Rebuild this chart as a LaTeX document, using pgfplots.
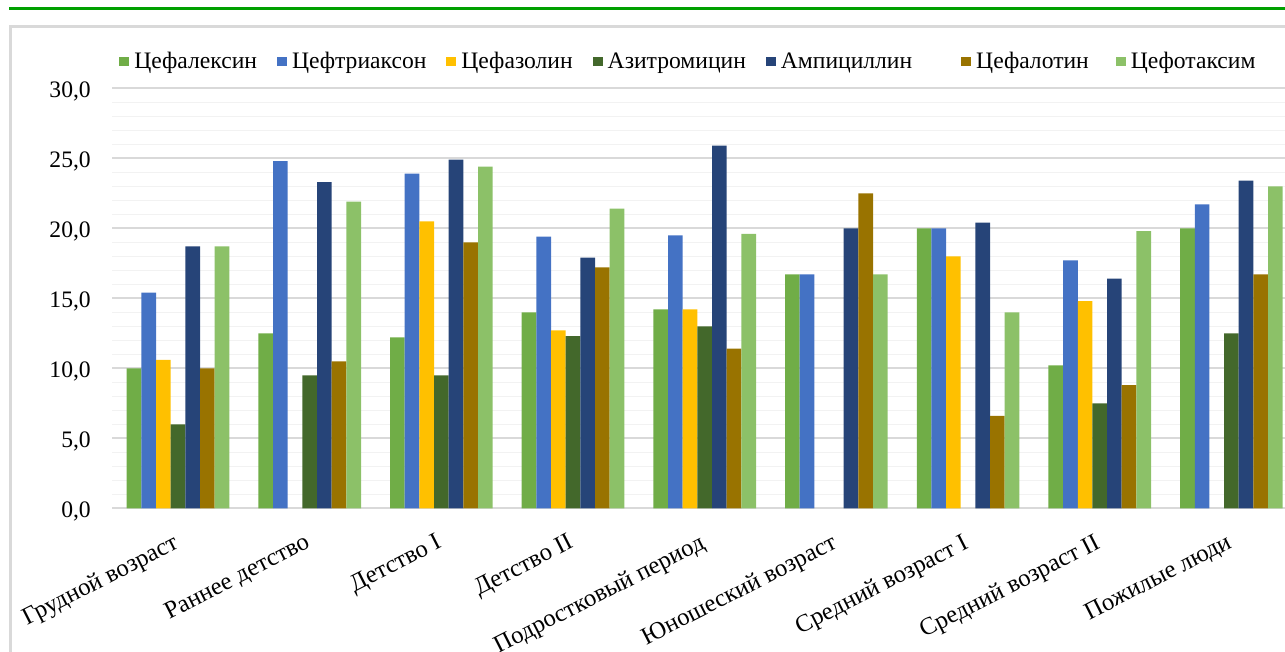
\documentclass[border=0pt]{standalone}
\usepackage{fontspec}
\setmainfont{Liberation Serif}
\usepackage{pgfplots}
\pgfplotsset{compat=1.18}
\usepackage{pgfplotstable}

\definecolor{cfx}{HTML}{70AD47}
\definecolor{cftr}{HTML}{4472C4}
\definecolor{cfz}{HTML}{FFC000}
\definecolor{azi}{HTML}{43682B}
\definecolor{amp}{HTML}{264478}
\definecolor{cfl}{HTML}{997300}
\definecolor{cfot}{HTML}{8CC168}
\definecolor{gridmaj}{HTML}{D9D9D9}
\definecolor{gridmin}{HTML}{F2F2F2}
\definecolor{topline}{HTML}{00A000}

% x: age group index, nan = no bar
\pgfplotstableread{
x cfx  cftr cfz  azi  amp  cfl  cfot
0 10.0 15.4 10.6 6.0  18.7 10.0 18.7
1 12.5 24.8 nan  9.5  23.3 10.5 21.9
2 12.2 23.9 20.5 9.5  24.9 19.0 24.4
3 14.0 19.4 12.7 12.3 17.9 17.2 21.4
4 14.2 19.5 14.2 13.0 25.9 11.4 19.6
5 16.7 16.7 nan  nan  20.0 22.5 16.7
6 20.0 20.0 18.0 nan  20.4 6.6  14.0
7 10.2 17.7 14.8 7.5  16.4 8.8  19.8
8 20.0 21.7 nan  12.5 23.4 16.7 23.0
}\data

\begin{document}
\fontsize{11.8pt}{14pt}\selectfont
\begin{tikzpicture}
\useasboundingbox (0,0) rectangle (642.5pt,326pt);
\draw[line width=1.25pt, topline] (4.5pt,321.75pt) -- (642.5pt,321.75pt);
\draw[line width=1.2pt, gridmaj] (5.25pt,-5pt) |- (650pt,312.75pt);
\begin{axis}[
    ybar=0pt, bar width=7.33pt,
    scale only axis, width=586.4pt, height=210pt,
    at={(56.1pt,71.85pt)}, anchor=south west,
    xmin=-0.5, xmax=8.407, ymin=0, ymax=30,
    xtick={0,...,8},
    xticklabels={Грудной возраст, Раннее детство, Детство I, Детство II,
        Подростковый период, Юношеский возраст, Средний возраст I,
        Средний возраст II, Пожилые люди},
    ytick={0,5,...,30}, minor y tick num=4,
    ymajorgrids, yminorgrids,
    major grid style={draw=gridmaj, line width=0.8pt},
    minor grid style={draw=gridmin, line width=0.7pt},
    major tick length=0pt, minor tick length=0pt,
    axis line style={draw=none},
    /pgf/number format/fixed, /pgf/number format/fixed zerofill,
    /pgf/number format/precision=1, /pgf/number format/use comma,
    /pgf/number format/assume math mode=true,
    yticklabel style={anchor=east, inner sep=0pt, xshift=-10.5pt, yshift=-1.5pt},
    xticklabel style={font=\fontsize{12.3pt}{14pt}\selectfont,
        xshift=-3pt, yshift=-12pt, rotate=27, anchor=north east, inner sep=0pt},
    legend columns=7,
    legend style={draw=none, fill=none, inner sep=0pt,
        at={(axis description cs:0.0058,1.0626)}, anchor=west,
        nodes={inner sep=0pt}, cells={anchor=west}},
    /tikz/every odd column/.append style={column sep=2.5pt},
    /tikz/every even column/.append style={column sep=10pt},
    every axis plot/.append style={draw=none,
        legend image code/.code={\fill[##1] (0pt,-2.25pt) rectangle (5pt,2.25pt);}},
]
\addplot[fill=cfx] table[x=x,y=cfx]{\data};
\addplot[fill=cftr] table[x=x,y=cftr]{\data};
\addplot[fill=cfz] table[x=x,y=cfz]{\data};
\addplot[fill=azi] table[x=x,y=azi]{\data};
\addplot[fill=amp] table[x=x,y=amp]{\data};
\addplot[fill=cfl] table[x=x,y=cfl]{\data};
\addplot[fill=cfot] table[x=x,y=cfot]{\data};
\legend{Цефалексин, Цефтриаксон, Цефазолин, Азитромицин,
    Ампициллин\rule{14.5pt}{0pt}, Цефалотин\rule{3.5pt}{0pt}, Цефотаксим}
\end{axis}
\end{tikzpicture}
\end{document}
